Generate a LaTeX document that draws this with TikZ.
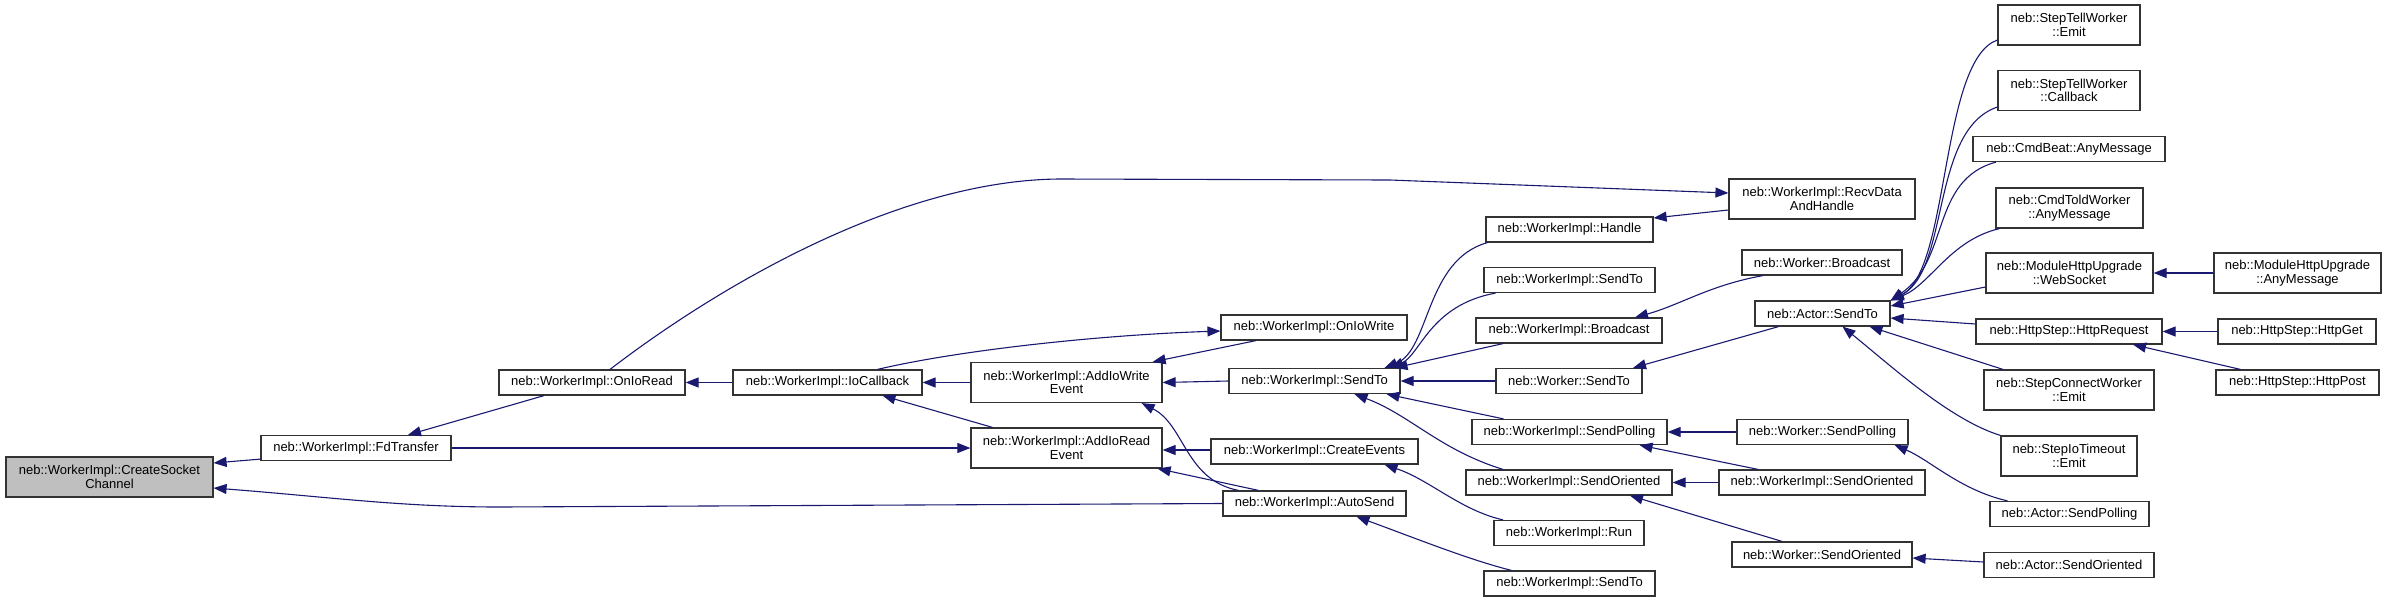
\documentclass[tikz,border=0pt]{standalone}
\usepackage{fontspec}
\setmainfont{Liberation Sans}
\usetikzlibrary{arrows.meta}
\definecolor{edgeblue}{RGB}{25,25,112}
\tikzset{
  func/.style={draw=black!80, line width=1.2pt, fill=white, minimum height=25pt,
    inner sep=0pt, align=center, font=\fontsize{13}{13.5}\selectfont},
  tall/.style={minimum height=40pt},
  calledge/.style={draw=edgeblue, line width=1.1pt, {Triangle[length=13pt,width=10pt]}-}
}
\begin{document}
\begin{tikzpicture}[x=1pt, y=-1pt]
    \useasboundingbox (0,0) rectangle (2387,603);

    % columns from left to right
    \node[func, tall, fill=black!25, minimum width=207pt] (csc) at (109.5,477) {neb::WorkerImpl::CreateSocket\\Channel};
    \node[func, minimum width=190pt] (fdt) at (356,448) {neb::WorkerImpl::FdTransfer};
    \node[func, minimum width=186pt] (onioread) at (592,382.5) {neb::WorkerImpl::OnIoRead};
    \node[func, minimum width=189pt] (iocb) at (827.5,382.5) {neb::WorkerImpl::IoCallback};
    \node[func, tall, minimum width=191pt] (addw) at (1066.5,382.5) {neb::WorkerImpl::AddIoWrite\\Event};
    \node[func, tall, minimum width=191pt] (addr) at (1066.5,448) {neb::WorkerImpl::AddIoRead\\Event};

    \node[func, minimum width=186pt] (oniowrite) at (1314,327.5) {neb::WorkerImpl::OnIoWrite};
    \node[func, minimum width=171pt] (sendto) at (1314.5,381) {neb::WorkerImpl::SendTo};
    \node[func, minimum width=207pt] (createev) at (1314.5,451.5) {neb::WorkerImpl::CreateEvents};
    \node[func, minimum width=183pt] (autosend) at (1314.5,503.5) {neb::WorkerImpl::AutoSend};

    \node[func, minimum width=167pt] (handle) at (1569.5,229.5) {neb::WorkerImpl::Handle};
    \node[func, minimum width=171pt] (sendtoA) at (1569.5,280) {neb::WorkerImpl::SendTo};
    \node[func, minimum width=186pt] (bcast) at (1569,330.5) {neb::WorkerImpl::Broadcast};
    \node[func, minimum width=146pt] (wsendto) at (1569,381) {neb::Worker::SendTo};
    \node[func, minimum width=195pt] (spoll) at (1569.5,432) {neb::WorkerImpl::SendPolling};
    \node[func, minimum width=206pt] (sorient) at (1569,482.5) {neb::WorkerImpl::SendOriented};
    \node[func, minimum width=150pt] (run) at (1569,533) {neb::WorkerImpl::Run};
    \node[func, minimum width=171pt] (sendtoB) at (1569.5,583.5) {neb::WorkerImpl::SendTo};

    \node[func, tall, minimum width=186pt] (recv) at (1822,199) {neb::WorkerImpl::RecvData\\AndHandle};
    \node[func, minimum width=160pt] (wbcast) at (1822,262.5) {neb::Worker::Broadcast};
    \node[func, minimum width=135pt] (asendto) at (1822.5,313.5) {neb::Actor::SendTo};
    \node[func, minimum width=171pt] (wspoll) at (1822.5,432) {neb::Worker::SendPolling};
    \node[func, minimum width=206pt] (sorientR) at (1822,482.5) {neb::WorkerImpl::SendOriented};
    \node[func, minimum width=180pt] (wsorient) at (1822,554.5) {neb::Worker::SendOriented};

    \node[func, tall, minimum width=142pt] (stwemit) at (2069,25) {neb::StepTellWorker\\::Emit};
    \node[func, tall, minimum width=142pt] (stwcb) at (2069,90.5) {neb::StepTellWorker\\::Callback};
    \node[func, minimum width=192pt] (beat) at (2069,149) {neb::CmdBeat::AnyMessage};
    \node[func, tall, minimum width=147pt] (told) at (2069.5,208) {neb::CmdToldWorker\\::AnyMessage};
    \node[func, tall, minimum width=167pt] (websock) at (2069.5,273) {neb::ModuleHttpUpgrade\\::WebSocket};
    \node[func, minimum width=186pt] (httpreq) at (2069,331.5) {neb::HttpStep::HttpRequest};
    \node[func, tall, minimum width=170pt] (sconn) at (2069,390) {neb::StepConnectWorker\\::Emit};
    \node[func, tall, minimum width=136pt] (siot) at (2069,456) {neb::StepIoTimeout\\::Emit};
    \node[func, minimum width=159pt] (aspoll) at (2069.5,514) {neb::Actor::SendPolling};
    \node[func, minimum width=170pt] (asorient) at (2069,565) {neb::Actor::SendOriented};

    \node[func, tall, minimum width=167pt] (modany) at (2297.5,273) {neb::ModuleHttpUpgrade\\::AnyMessage};
    \node[func, minimum width=158pt] (httpget) at (2297,331.5) {neb::HttpStep::HttpGet};
    \node[func, minimum width=163pt] (httppost) at (2297.5,382.5) {neb::HttpStep::HttpPost};

    % calls into the first columns
    \draw[calledge] ([yshift=14pt]csc.east) -- ([yshift=2pt]fdt.south west);
    \draw[calledge] ([yshift=-11pt]csc.east) .. controls (330,497) and (400,507) .. (500,507) -- (autosend.west);
    \draw[calledge] ([xshift=52pt]fdt.north) -- ([xshift=-48pt]onioread.south);
    \draw[calledge] (addr.west) -- (fdt.east);
    \draw[calledge] (onioread.east) -- (iocb.west);
    \draw[calledge] ([yshift=6pt]recv.west) -- (1390,180) -- (1060,179) .. controls (900,180) and (720,285) .. ([xshift=18pt]onioread.north);
    \draw[calledge] (iocb.east) -- (addw.west);
    \draw[calledge] ([yshift=-3.5pt]oniowrite.west) .. controls (1100,335) and (960,350) .. ([xshift=50pt]iocb.north);
    \draw[calledge] ([xshift=55pt]iocb.south) -- ([xshift=-74pt]addr.north);
    \draw[calledge] ([xshift=-10pt]addw.north east) -- ([xshift=-58pt]oniowrite.south);
    \draw[calledge] (addw.east) -- (sendto.west);
    \draw[calledge] ([xshift=-21pt]addw.south east) .. controls (1185,425) and (1185,480) .. ([xshift=-76pt]autosend.north);
    \draw[calledge] ([yshift=-2pt]addr.east) -- ([yshift=1.5pt]createev.west);
    \draw[calledge] ([xshift=-5pt]addr.south east) -- ([xshift=-56pt]autosend.north);

    % calls into the middle columns
    \draw[calledge] ([xshift=70pt]createev.south) .. controls (1430,480) and (1460,510) .. ([xshift=-66pt]run.north);
    \draw[calledge] ([xshift=42pt]autosend.south) .. controls (1420,540) and (1470,560) .. ([xshift=-58pt]sendtoB.north);
    \draw[calledge] ([xshift=70pt]sendto.north) .. controls (1430,350) and (1425,260) .. ([xshift=2pt]handle.south west);
    \draw[calledge] ([xshift=76pt]sendto.north) .. controls (1420,355) and (1430,305) .. ([xshift=-74pt]sendtoA.south);
    \draw[calledge] ([xshift=80pt]sendto.north) -- ([xshift=-66pt]bcast.south);
    \draw[calledge] (sendto.east) -- (wsendto.west);
    \draw[calledge] ([xshift=72pt]sendto.south) -- ([xshift=-66pt]spoll.north);
    \draw[calledge] ([xshift=40pt]sendto.south) .. controls (1410,415) and (1440,450) .. ([xshift=-66pt]sorient.north);
    \draw[calledge] ([yshift=11.5pt]handle.east) -- ([yshift=-11pt]recv.west);
    \draw[calledge] ([xshift=66pt]bcast.north) .. controls (1680,305) and (1710,285) .. ([xshift=-59pt]wbcast.south);
    \draw[calledge] ([xshift=64pt]wsendto.north) -- ([xshift=-44pt]asendto.south);
    \draw[calledge] (spoll.east) -- (wspoll.west);
    \draw[calledge] ([xshift=70pt]spoll.south) -- ([xshift=-64pt]sorientR.north);
    \draw[calledge] (sorient.east) -- (sorientR.west);
    \draw[calledge] ([xshift=61pt]sorient.south) -- ([xshift=-40pt]wsorient.north);

    % calls into neb::Actor and the right columns
    \draw[calledge] (asendto.north east) .. controls (1950,270) and (1940,60) .. ([yshift=-15pt]stwemit.west);
    \draw[calledge] (asendto.north east) .. controls (1950,270) and (1930,130) .. ([yshift=-16.5pt]stwcb.west);
    \draw[calledge] (asendto.north east) .. controls (1950,260) and (1930,180) .. ([xshift=-73pt]beat.south);
    \draw[calledge] (asendto.north east) .. controls (1930,285) and (1950,240) .. ([xshift=-70pt]told.south);
    \draw[calledge] ([yshift=7.5pt]asendto.east) -- ([yshift=-14pt]websock.west);
    \draw[calledge] ([yshift=-4.5pt]asendto.east) -- ([yshift=7.5pt]httpreq.west);
    \draw[calledge] ([xshift=47pt]asendto.south) -- ([xshift=-66pt]sconn.north);
    \draw[calledge] ([xshift=20pt]asendto.south) .. controls (1890,365) and (1950,420) .. (siot.north west);
    \draw[calledge] (websock.east) -- (modany.west);
    \draw[calledge] (httpreq.east) -- (httpget.west);
    \draw[calledge] ([xshift=64pt]httpreq.south) -- ([xshift=-57pt]httppost.north);
    \draw[calledge] ([xshift=-14pt]wspoll.south east) .. controls (1930,460) and (1960,490) .. ([xshift=-62pt]aspoll.north);
    \draw[calledge] ([yshift=-3.5pt]wsorient.east) -- ([yshift=3pt]asorient.west);
\end{tikzpicture}
\end{document}
